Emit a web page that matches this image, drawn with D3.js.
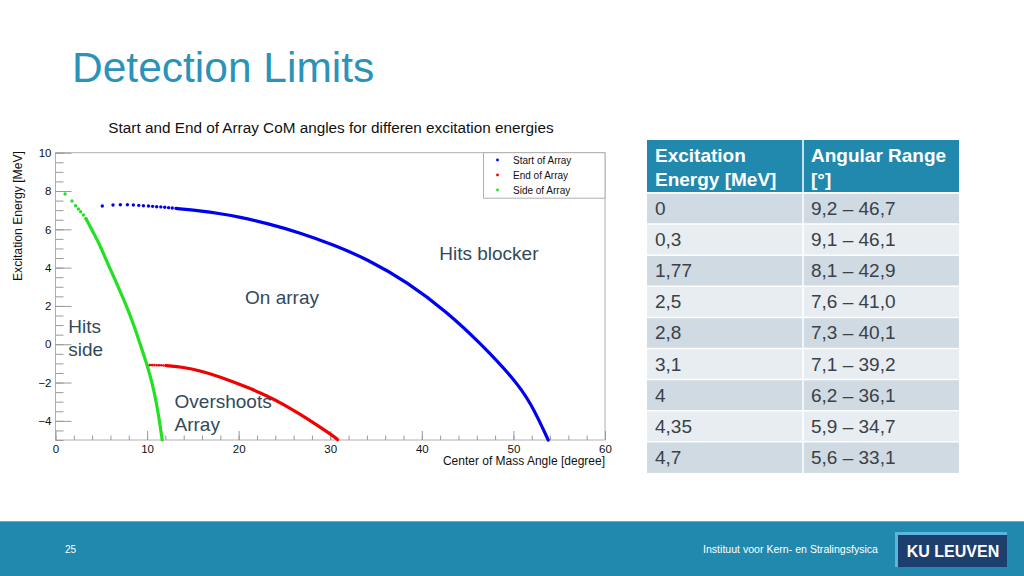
<!DOCTYPE html>
<html><head><meta charset="utf-8">
<script src="https://cdn.jsdelivr.net/npm/d3@7"></script>
<style>
body{margin:0;background:#fff;}
svg{display:block;font-family:"Liberation Sans",Arial,Helvetica,sans-serif;}
</style>
</head><body>
<svg id="c" width="1024" height="576"></svg>
<script>
// ---------- data ----------
const seriesNames = ["Start of Array", "End of Array", "Side of Array"];

// Start of Array (blue): sparse markers, then continuous trace
const startDotsAngle  = [5.11, 6.28, 7.08, 7.85, 8.5, 9.09, 9.6, 10.15, 10.6, 11.05, 11.5, 11.93, 12.35, 12.75];
const startDotsEnergy = [7.22, 7.27, 7.28, 7.28, 7.27, 7.25, 7.23, 7.22, 7.20, 7.18, 7.17, 7.15, 7.13, 7.11];
const startTraceAngle  = [13.15, 15.8, 18.0, 20.2, 23.1, 26.7, 30.4, 34.0, 38.4, 42.75, 46.4, 50.0, 51.9, 53.8];
const startTraceEnergy = [7.09, 6.97, 6.82, 6.63, 6.31, 5.82, 5.18, 4.45, 3.25, 1.68, 0.05, -1.78, -3.05, -5.0];

// End of Array (red)
const endDotsAngle  = [10.3, 10.55, 10.8, 11.05, 11.3, 11.55, 11.8, 12.05];
const endDotsEnergy = [-1.09, -1.09, -1.09, -1.10, -1.10, -1.10, -1.11, -1.11];
const endTraceAngle  = [12.1, 13.97, 15.79, 17.6, 19.43, 21.26, 23.08, 24.9, 26.72, 28.55, 30.36, 30.8];
const endTraceEnergy = [-1.12, -1.2, -1.38, -1.65, -1.96, -2.31, -2.69, -3.14, -3.66, -4.22, -4.8, -4.98];

// Side of Array (green)
const sideDotsAngle  = [1.05, 1.8, 2.2, 2.5, 2.75, 3.04, 3.33];
const sideDotsEnergy = [7.84, 7.48, 7.23, 7.06, 6.92, 6.75, 6.55];
const sideTraceAngle  = [3.33, 3.95, 4.5, 5.0, 5.45, 5.9, 6.85, 7.75, 8.55, 9.25, 9.95, 10.55, 11.0, 11.35, 11.65];
const sideTraceEnergy = [6.55, 6.0, 5.5, 5.0, 4.5, 4.0, 3.0, 2.0, 1.0, 0.0, -1.0, -2.0, -3.0, -4.0, -5.0];

const xTickValues = [0, 10, 20, 30, 40, 50, 60];
const yTickValues = [-4, -2, 0, 2, 4, 6, 8, 10];

const regionLabels = [["Hits blocker"], ["On array"], ["Hits", "side"], ["Overshoots", "Array"]];
const regionAngle  = [41.9, 20.7, 1.4, 13.0];
const regionEnergy = [4.38, 2.1, 0.6, -3.35];

const tableHeader = [["Excitation", "Energy [MeV]"], ["Angular Range", "[°]"]];
const tableEnergy = ["0", "0,3", "1,77", "2,5", "2,8", "3,1", "4", "4,35", "4,7"];
const tableRange  = ["9,2 – 46,7", "9,1 – 46,1", "8,1 – 42,9", "7,6 – 41,0", "7,3 – 40,1", "7,1 – 39,2", "6,2 – 36,1", "5,9 – 34,7", "5,6 – 33,1"];

// ---------- drawing ----------
const svg = d3.select("#c");
const colors = ["#0000f0", "#f00000", "#22e022"];
const teal = "#2189ae";
const annColor = "#33495a";

// slide title
svg.append("text").attr("x", 72).attr("y", 82).attr("font-size", 42.5)
  .attr("fill", "#2b93b9").text("Detection Limits");

// plot frame
const L = 55.5, R = 605, T = 152.7, B = 440;
const x = d3.scaleLinear().domain([0, 60]).range([L, R]);
const y = d3.scaleLinear().domain([-5, 10]).range([B, T]);

svg.append("text").attr("x", 331).attr("y", 133).attr("text-anchor", "middle")
  .attr("font-size", 15.3).attr("fill", "#111")
  .text("Start and End of Array CoM angles for differen excitation energies");

svg.append("rect").attr("x", L).attr("y", T).attr("width", R - L).attr("height", B - T)
  .attr("fill", "none").attr("stroke", "#b0b0b0").attr("stroke-width", 1);

const tickColor = "#9a9a9a";
// x minor
const gxm = svg.append("g").attr("transform", `translate(0,${B})`)
  .call(d3.axisBottom(x).tickValues(x.ticks(30)).tickSizeInner(-4.5).tickSizeOuter(0).tickFormat(""));
// x major
const gx = svg.append("g").attr("transform", `translate(0,${B})`)
  .call(d3.axisBottom(x).tickValues(xTickValues).tickSizeInner(-9).tickSizeOuter(0).tickPadding(5).tickFormat(d3.format("d")));
// y minor
const gym = svg.append("g").attr("transform", `translate(${L},0)`)
  .call(d3.axisLeft(y).tickValues(y.ticks(30)).tickSizeInner(-8).tickSizeOuter(0).tickFormat(""));
// y major
const gy = svg.append("g").attr("transform", `translate(${L},0)`)
  .call(d3.axisLeft(y).tickValues(yTickValues).tickSizeInner(-16).tickSizeOuter(0).tickPadding(4).tickFormat(d => d3.format("d")(d).replace("-", "\u2212")));
[gxm, gx, gym, gy].forEach(g => {
  g.select(".domain").remove();
  g.selectAll("line").attr("stroke", tickColor);
  g.selectAll("text").attr("font-size", 11.5).attr("fill", "#111")
    .attr("font-family", "'Liberation Sans',Arial,sans-serif");
});

svg.append("text").attr("transform", "translate(21.5,151) rotate(-90)")
  .attr("text-anchor", "end").attr("font-size", 12.2).attr("fill", "#111")
  .text("Excitation Energy [MeV]");
svg.append("text").attr("x", R).attr("y", 465).attr("text-anchor", "end")
  .attr("font-size", 12).attr("fill", "#111").text("Center of Mass Angle [degree]");

// series
const zipPts = (a, e) => a.map((v, i) => [v, e[i]]);
const seriesDots = [zipPts(startDotsAngle, startDotsEnergy), zipPts(endDotsAngle, endDotsEnergy), zipPts(sideDotsAngle, sideDotsEnergy)];
const seriesTrace = [zipPts(startTraceAngle, startTraceEnergy), zipPts(endTraceAngle, endTraceEnergy), zipPts(sideTraceAngle, sideTraceEnergy)];
const line = d3.line().x(d => x(d[0])).y(d => y(d[1])).curve(d3.curveBasis);

const plot = svg.append("g");
seriesTrace.forEach((pts, i) => {
  plot.append("path").attr("d", line(pts)).attr("fill", "none")
    .attr("stroke", colors[i]).attr("stroke-width", 3.2).attr("stroke-linecap", "round");
});
seriesDots.forEach((pts, i) => {
  plot.selectAll(null).data(pts).enter().append("circle")
    .attr("cx", d => x(d[0])).attr("cy", d => y(d[1]))
    .attr("r", i === 1 ? 1.3 : 1.7).attr("fill", colors[i]);
});

// region labels
regionLabels.forEach((lines, i) => {
  const t = svg.append("text").attr("x", x(regionAngle[i])).attr("y", y(regionEnergy[i]))
    .attr("font-size", 19).attr("fill", annColor);
  lines.forEach((s, k) => t.append("tspan").attr("x", x(regionAngle[i])).attr("dy", k === 0 ? 0 : 23).text(s));
});

// legend
const lg = svg.append("g");
lg.append("rect").attr("x", 483.5).attr("y", T).attr("width", R - 483.5).attr("height", 45.5)
  .attr("fill", "#fff").attr("stroke", "#b0b0b0");
seriesNames.forEach((n, i) => {
  const yy = 160 + i * 15;
  lg.append("circle").attr("cx", 497.5).attr("cy", yy).attr("r", 1.4).attr("fill", colors[i]);
  lg.append("text").attr("x", 513).attr("y", yy + 3.5).attr("font-size", 10).attr("fill", "#111").text(n);
});

// table
const tx = [647, 803, 959], headTop = 140, headH = 52, rowH = 31.1;
const tg = svg.append("g");
tg.append("rect").attr("x", tx[0]).attr("y", headTop).attr("width", tx[2] - tx[0]).attr("height", headH).attr("fill", teal);
tableHeader.forEach((h, c) => {
  h.forEach((s, k) => tg.append("text").attr("x", tx[c] + 8).attr("y", headTop + 22 + k * 24)
    .attr("font-size", 19).attr("font-weight", "bold").attr("fill", "#fff").text(s));
});
tableEnergy.forEach((e, r) => {
  const ry = headTop + headH + 1 + r * rowH;
  tg.append("rect").attr("x", tx[0]).attr("y", ry).attr("width", tx[2] - tx[0]).attr("height", rowH)
    .attr("fill", r % 2 === 0 ? "#cfdae2" : "#e7edf1");
  tg.append("text").attr("x", tx[0] + 8).attr("y", ry + 22).attr("font-size", 19).attr("fill", "#3a4148").text(e);
  tg.append("text").attr("x", tx[1] + 8).attr("y", ry + 22).attr("font-size", 19).attr("fill", "#3a4148").text(tableRange[r]);
  tg.append("line").attr("x1", tx[0]).attr("x2", tx[2]).attr("y1", ry).attr("y2", ry).attr("stroke", "#fff").attr("stroke-width", 1.5);
});
tg.append("line").attr("x1", tx[1]).attr("x2", tx[1]).attr("y1", headTop).attr("y2", headTop + headH + 1 + tableEnergy.length * rowH)
  .attr("stroke", "#fff").attr("stroke-width", 1.5);

// footer
svg.append("rect").attr("x", 0).attr("y", 521).attr("width", 1024).attr("height", 55).attr("fill", teal);
svg.append("line").attr("x1", 0).attr("x2", 1024).attr("y1", 521.5).attr("y2", 521.5).attr("stroke", "#5fb0cf").attr("stroke-width", 1);
svg.append("text").attr("x", 65).attr("y", 553).attr("font-size", 10).attr("fill", "#fff").text("25");
svg.append("text").attr("x", 878).attr("y", 553).attr("text-anchor", "end").attr("font-size", 10.5)
  .attr("fill", "#fff").attr("textLength", 175).attr("lengthAdjust", "spacingAndGlyphs")
  .text("Instituut voor Kern- en Stralingsfysica");
svg.append("rect").attr("x", 895).attr("y", 532).attr("width", 112).attr("height", 35).attr("fill", "#5ab6df");
svg.append("rect").attr("x", 898).attr("y", 535).attr("width", 109).attr("height", 32).attr("fill", "#1d3f6d");
svg.append("text").attr("x", 953).attr("y", 557).attr("text-anchor", "middle").attr("font-size", 16)
  .attr("font-weight", "bold").attr("fill", "#fff").text("KU LEUVEN");
</script>
</body></html>
